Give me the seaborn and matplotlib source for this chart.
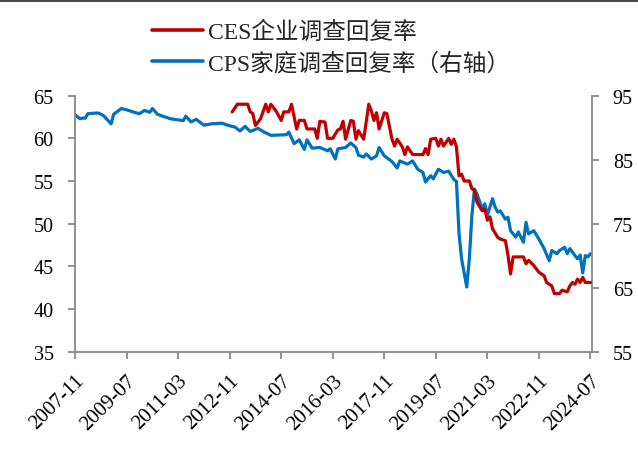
import matplotlib
matplotlib.use("Agg")
import matplotlib.pyplot as plt
import seaborn as sns
import pandas as pd
from matplotlib.patches import Rectangle
from matplotlib.lines import Line2D

# months counted from 2007-11 (index 0)
cps_month = [0, 2, 3, 4, 5, 9, 11, 14, 15, 16, 18, 20, 23, 25, 27, 29, 30, 32, 34, 37,
             42, 43, 45, 47, 50, 53, 57, 60, 62, 64, 66, 68, 71, 73, 76, 82, 83, 85, 87, 89,
             90, 92, 95, 98, 99, 101, 102, 105, 107, 109, 110, 112, 113, 115, 117, 118, 120, 123, 125, 126,
             129, 131, 133, 135, 136, 138, 139, 141, 143, 145, 147, 148, 149, 150, 152, 153, 154, 155, 156, 158,
             159, 160, 162, 163, 164, 165, 167, 168, 169, 171, 172, 174, 175, 176, 178, 180, 182, 184, 185, 187,
             188, 190, 191, 192, 194, 195, 196, 197, 198, 199, 200]
cps_rate = [92.0, 91.4, 91.5, 91.5, 92.2, 92.3, 91.9, 90.6, 92.1, 92.4, 93.0, 92.8, 92.4, 92.2, 92.7, 92.4, 93.0, 92.1, 91.8, 91.4,
            91.1, 91.8, 90.9, 91.3, 90.4, 90.6, 90.7, 90.3, 90.1, 89.5, 90.2, 89.4, 89.9, 89.4, 88.8, 88.9, 89.3, 87.5, 88.1, 86.6,
            88.1, 86.8, 86.9, 86.4, 86.7, 85.1, 86.7, 86.9, 87.6, 86.9, 85.7, 85.4, 85.9, 85.1, 85.6, 86.9, 85.6, 84.7, 83.7, 84.8,
            84.3, 84.8, 83.5, 83.0, 81.5, 82.5, 82.0, 83.5, 83.0, 83.2, 81.9, 81.6, 73.5, 69.5, 65.1, 69.5, 76.3, 80.4, 79.6, 77.3,
            78.1, 76.3, 78.9, 77.6, 76.8, 77.0, 75.7, 76.0, 73.9, 72.9, 73.7, 72.1, 75.2, 73.4, 73.9, 72.6, 71.1, 69.2, 70.8, 70.3,
            70.8, 71.3, 70.3, 71.1, 70.0, 69.5, 70.1, 67.3, 70.0, 69.8, 70.3]

ces_month = [61, 63, 67, 68, 69, 70, 72, 74, 75, 76, 78, 80, 81, 83, 84, 86, 87, 89, 90, 93,
             94, 95, 97, 98, 100, 102, 103, 104, 105, 107, 108, 109, 110, 112, 114, 115, 116, 117, 118, 120,
             121, 123, 124, 125, 127, 128, 129, 131, 135, 136, 137, 138, 140, 141, 142, 143, 145, 146, 147, 148,
             149, 150, 151, 153, 154, 155, 156, 158, 159, 160, 161, 162, 164, 165, 167, 168, 169, 170, 172, 174,
             175, 176, 178, 180, 182, 183, 185, 186, 188, 189, 191, 192, 193, 194, 195, 196, 197, 198, 200]
ces_rate = [63.1, 64.0, 64.0, 63.1, 62.9, 61.5, 62.3, 64.0, 63.1, 64.0, 63.2, 62.1, 63.1, 63.1, 64.0, 61.1, 62.1, 62.1, 61.1, 61.1,
            60.0, 62.0, 61.9, 60.0, 60.0, 61.0, 61.1, 62.0, 59.9, 62.1, 62.0, 59.9, 60.9, 59.9, 64.0, 63.2, 62.1, 63.0, 61.1, 63.0,
            62.9, 59.9, 59.1, 59.9, 59.0, 58.1, 59.0, 58.1, 58.1, 58.8, 58.1, 59.9, 60.0, 59.1, 59.9, 59.1, 60.0, 59.3, 59.9, 59.0,
            55.6, 55.8, 55.0, 55.0, 54.1, 53.9, 52.5, 51.5, 51.7, 50.4, 50.8, 49.4, 48.4, 48.2, 48.0, 46.3, 44.1, 46.1, 46.1, 46.1,
            45.3, 45.7, 45.1, 44.3, 43.9, 43.1, 42.7, 41.8, 41.8, 42.2, 42.0, 42.7, 43.1, 42.9, 43.5, 43.1, 43.7, 43.1, 43.1]

tick_labels = ['2007-11', '2009-07', '2011-03', '2012-11', '2014-07', '2016-03',
               '2017-11', '2019-07', '2021-03', '2022-11', '2024-07']
left_ticks = [35, 40, 45, 50, 55, 60, 65]
right_ticks = [55, 65, 75, 85, 95]
ces_label = 'CES企业调查回复率'
cps_label = 'CPS家庭调查回复率（右轴）'

sns.set_theme(style="white")
plt.rcParams['font.family'] = ['Liberation Serif', 'Noto Sans CJK SC', 'DejaVu Sans']

RED = '#C00000'
BLUE = '#0070C0'
GRAY = '#898989'

fig = plt.figure(figsize=(6.38, 4.52), dpi=100)
ax = fig.add_axes([74.5 / 638, 1 - 352.6 / 452, (592 - 74.5) / 638, (352.6 - 96.7) / 452])
ax2 = ax.twinx()

ces_df = pd.DataFrame({'month': ces_month, 'rate': ces_rate})
cps_df = pd.DataFrame({'month': cps_month, 'rate': cps_rate})
sns.lineplot(data=ces_df, x='month', y='rate', ax=ax, color=RED, linewidth=2.3, zorder=3)
sns.lineplot(data=cps_df, x='month', y='rate', ax=ax2, color=BLUE, linewidth=2.3)
ax.set_zorder(ax2.get_zorder() + 1)
ax.patch.set_visible(False)

def month_index(s):
    y, m = s.split('-')
    return (int(y) - 2007) * 12 + (int(m) - 11)

xt = [month_index(s) for s in tick_labels]
ax.set_xlim(-0.2, 200.6)
ax.set_ylim(35, 65)
ax2.set_ylim(55, 95)
ax.set_xticks(xt)
ax.set_xticklabels(tick_labels, rotation=45, ha='right', rotation_mode='anchor')
ax.set_yticks(left_ticks)
ax2.set_yticks(right_ticks)
ax.set_xlabel('')
ax.set_ylabel('')
ax2.set_ylabel('')

for a in (ax, ax2):
    a.spines['top'].set_visible(False)
    for side in ('left', 'right', 'bottom'):
        a.spines[side].set_color(GRAY)
        a.spines[side].set_linewidth(1.3)
ax.spines['right'].set_visible(False)
ax2.spines['left'].set_visible(False)
ax2.spines['bottom'].set_visible(False)

ax.tick_params(axis='y', direction='out', length=5, width=1.3, color=GRAY, pad=10,
               labelsize=14.5, labelcolor='black', left=True)
ax.tick_params(axis='x', direction='out', length=5, width=1.3, color=GRAY, pad=9,
               labelsize=15, labelcolor='black', bottom=True)
ax2.tick_params(axis='y', direction='out', length=5, width=1.3, color=GRAY, pad=10,
                labelsize=14.5, labelcolor='black', right=True)
ax.grid(False)
ax2.grid(False)

handles = [Line2D([], [], color=RED, lw=2.6), Line2D([], [], color=BLUE, lw=2.6)]
fig.legend(handles, [ces_label, cps_label], loc='upper left',
           bbox_to_anchor=(152 / 638, 1 - 22 / 452), frameon=False,
           prop={'size': 17}, handlelength=2.15, handletextpad=0.22,
           labelspacing=0.36, borderpad=0, borderaxespad=0)

fig.patches.append(Rectangle((0, 1 - 3 / 452), 1, 3 / 452, transform=fig.transFigure,
                             facecolor='#4a4a4a', edgecolor='none', zorder=10))

fig.savefig('out.png', dpi=100)
